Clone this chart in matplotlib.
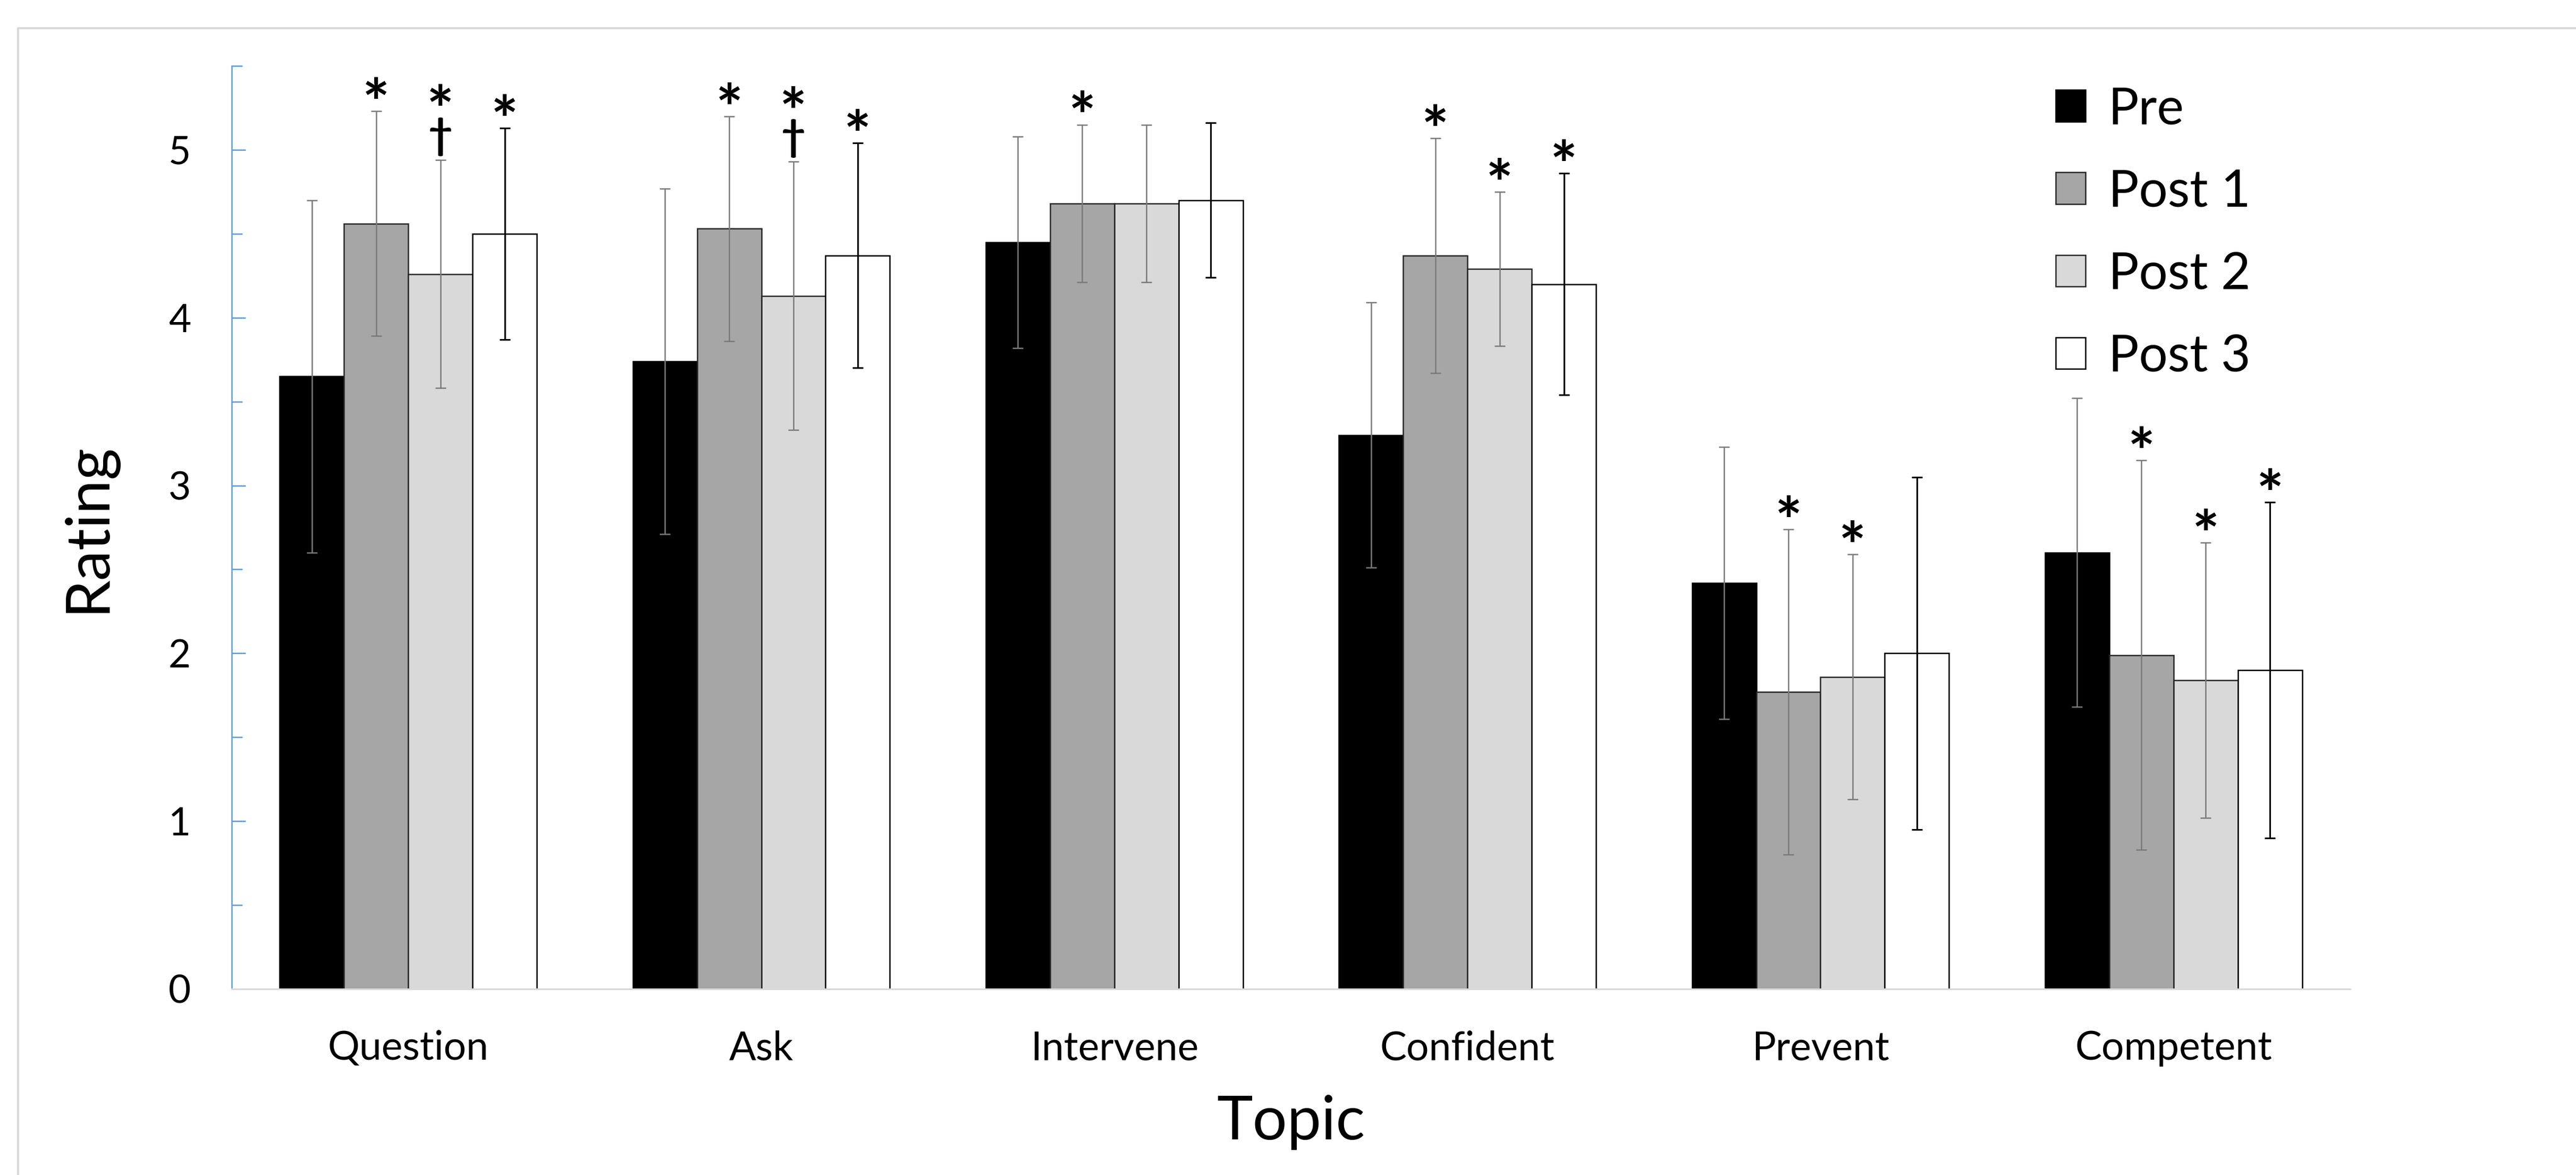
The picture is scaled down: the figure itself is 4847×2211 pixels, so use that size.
import matplotlib
matplotlib.use('Agg')
import matplotlib.pyplot as plt
import numpy as np
from matplotlib.lines import Line2D
from matplotlib.ticker import MultipleLocator

plt.rcParams['font.family'] = ['Lato', 'DejaVu Sans']

# ---------------- data ----------------
topics = ['Question', 'Ask', 'Intervene', 'Confident', 'Prevent', 'Competent']
series = ['Pre', 'Post 1', 'Post 2', 'Post 3']

pre_mean = [3.65, 3.74, 4.45, 3.30, 2.42, 2.60]
pre_sd = [1.05, 1.03, 0.63, 0.79, 0.81, 0.92]
post1_mean = [4.56, 4.53, 4.68, 4.37, 1.77, 1.99]
post1_sd = [0.67, 0.67, 0.47, 0.70, 0.97, 1.16]
post2_mean = [4.26, 4.13, 4.68, 4.29, 1.86, 1.84]
post2_sd = [0.68, 0.80, 0.47, 0.46, 0.73, 0.82]
post3_mean = [4.50, 4.37, 4.70, 4.20, 2.00, 1.90]
post3_sd = [0.63, 0.67, 0.46, 0.66, 1.05, 1.00]

# significance markers (1 = shown)
pre_star = [0, 0, 0, 0, 0, 0]
post1_star = [1, 1, 1, 1, 1, 1]
post2_star = [1, 1, 0, 1, 1, 1]
post3_star = [1, 1, 0, 1, 0, 1]
post2_dagger = [1, 1, 0, 0, 0, 0]

y_ticks = [0, 1, 2, 3, 4, 5]

# ---------------- styles ----------------
means = [pre_mean, post1_mean, post2_mean, post3_mean]
sds = [pre_sd, post1_sd, post2_sd, post3_sd]
stars = [pre_star, post1_star, post2_star, post3_star]
daggers = [[0] * 6, [0] * 6, post2_dagger, [0] * 6]
fills = ['#000000', '#A6A6A6', '#D9D9D9', '#FFFFFF']
edges = ['#000000', '#262626', '#262626', '#000000']
ecols = ['#7A7A7A', '#7A7A7A', '#7A7A7A', '#000000']
elws = [0.6, 0.6, 0.6, 0.75]

W, H, DPI = 4847, 2211, 300
fig = plt.figure(figsize=(W / DPI, H / DPI), dpi=DPI)
fig.patch.set_facecolor('white')

left, right, top, bottom = 436, 4422, 124, 1861
ax = fig.add_axes([left / W, 1 - bottom / H, (right - left) / W, (bottom - top) / H])

x = np.arange(len(topics))
bw = 0.182
handles = []
for i, s in enumerate(series):
    xi = x + (i - 1.5) * bw
    b = ax.bar(xi, means[i], width=bw, color=fills[i], edgecolor=edges[i],
               linewidth=0.6, label=s, zorder=1)
    handles.append(b)
    ax.errorbar(xi, means[i], yerr=sds[i], fmt='none', ecolor=ecols[i],
                elinewidth=elws[i], capsize=2.5, capthick=elws[i], zorder=3)
    for j in range(len(topics)):
        ytop = means[i][j] + sds[i][j]
        if daggers[i][j]:
            ax.annotate('\u2020', (xi[j], ytop), xytext=(0, 10.5), textcoords='offset points',
                        ha='center', va='center', fontsize=19, fontweight='bold')
            if stars[i][j]:
                ax.annotate('*', (xi[j], ytop), xytext=(0, 20.5), textcoords='offset points',
                            ha='center', va='center', fontsize=29, fontweight='bold')
        elif stars[i][j]:
            ax.annotate('*', (xi[j], ytop), xytext=(0, 1.7), textcoords='offset points',
                        ha='center', va='center', fontsize=29, fontweight='bold')

ax.set_xlim(-0.5, len(topics) - 0.5)
ax.set_ylim(0, 5.5)
ax.set_yticks(y_ticks)
ax.yaxis.set_minor_locator(MultipleLocator(0.5))
ax.set_xticks(x)
ax.set_xticklabels(topics)

for sp in ['top', 'right']:
    ax.spines[sp].set_visible(False)
ax.spines['left'].set_color('#5B9BD5')
ax.spines['left'].set_linewidth(0.6)
ax.spines['bottom'].set_color('#D9D9D9')
ax.spines['bottom'].set_linewidth(0.75)

ax.tick_params(axis='y', which='major', direction='in', length=6.2, width=0.6,
               color='#5B9BD5', pad=18.5, labelsize=17.5)
ax.tick_params(axis='y', which='minor', direction='in', length=4.8, width=0.6,
               color='#5B9BD5')
ax.tick_params(axis='x', which='both', length=0, pad=18.5, labelsize=18)

ax.set_xlabel('Topic', fontsize=27.5, va='center')
ax.xaxis.set_label_coords(0.5, (bottom - 2112) / (bottom - top))
ax.set_ylabel('Rating', fontsize=27.5, va='center')
ax.yaxis.set_label_coords((165 - left) / (right - left), 0.5)

ax.legend(handles, series, loc='upper left',
          bbox_to_anchor=(3868 / W, 1 - 162 / H), bbox_transform=fig.transFigure,
          frameon=False, fontsize=23, handlelength=0.58, handleheight=0.58,
          handletextpad=0.45, labelspacing=0.70, borderpad=0, borderaxespad=0)

# outer chart frame (partially visible)
frame = Line2D([34 / W, 34 / W, 1.0], [0.0, 1 - 53 / H, 1 - 53 / H],
               transform=fig.transFigure, color='#D9D9D9', linewidth=1.0)
fig.add_artist(frame)

fig.savefig('out.png', dpi=DPI)
